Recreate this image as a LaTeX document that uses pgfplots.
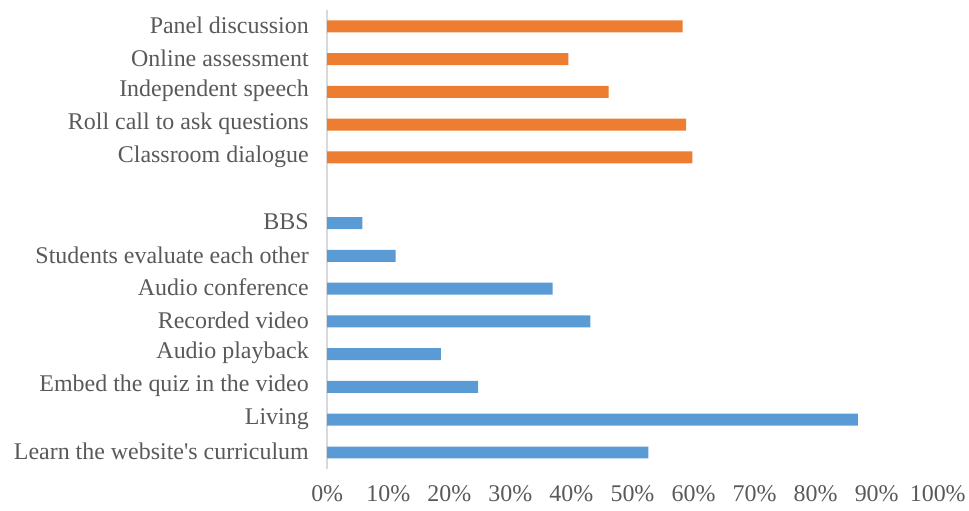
\documentclass[border=0pt]{standalone}
\usepackage{pgfplots}
\pgfplotsset{compat=1.18}
\usepackage{fontspec}
\setmainfont{Liberation Serif}[Ligatures=TeXOff]
\definecolor{barblue}{HTML}{5B9BD5}
\definecolor{barorange}{HTML}{ED7D31}
\definecolor{txt}{HTML}{595959}
\definecolor{axline}{HTML}{D9D9D9}
\begin{document}
\begin{tikzpicture}
\begin{axis}[
  name=ax,
  scale only axis,
  width=612bp, height=460bp,
  xmin=0, xmax=100,
  ymin=-0.5, ymax=13.5,
  xbar, bar shift=0pt, bar width=12bp,
  axis x line*=bottom,
  axis y line*=left,
  x axis line style={draw=none},
  y axis line style={draw=axline, line width=1.5bp},
  major tick length=0pt,
  xtick={0,10,...,100},
  xticklabels={0\%,10\%,20\%,30\%,40\%,50\%,60\%,70\%,80\%,90\%,100\%},
  ytick={0,1,2,3,4,5,6,7,9,10,11,12,13},
  yticklabels={Learn the website's curriculum,Living,Embed the quiz in the video,Audio playback,Recorded video,Audio conference,Students evaluate each other,BBS,Classroom dialogue,Roll call to ask questions,Independent speech,Online assessment,Panel discussion},
  tick label style={font=\fontsize{24bp}{29bp}\selectfont, text=txt},
  yticklabel style={xshift=-15bp, yshift=1bp},
  xticklabel style={yshift=-13bp},
  /pgf/number format/assume math mode=true,
]
\addplot[fill=barblue, draw=none] coordinates {
  (52.6,0) (86.9,1) (24.7,2) (18.6,3) (43.1,4) (36.9,5) (11.2,6) (5.75,7)
};
\addplot[fill=barorange, draw=none] coordinates {
  (59.8,9) (58.8,10) (46.1,11) (39.5,12) (58.2,13)
};
\end{axis}
\path ([xshift=-328bp,yshift=-42bp]ax.south west) rectangle ([xshift=29bp,yshift=10bp]ax.north east);
\end{tikzpicture}
\end{document}
